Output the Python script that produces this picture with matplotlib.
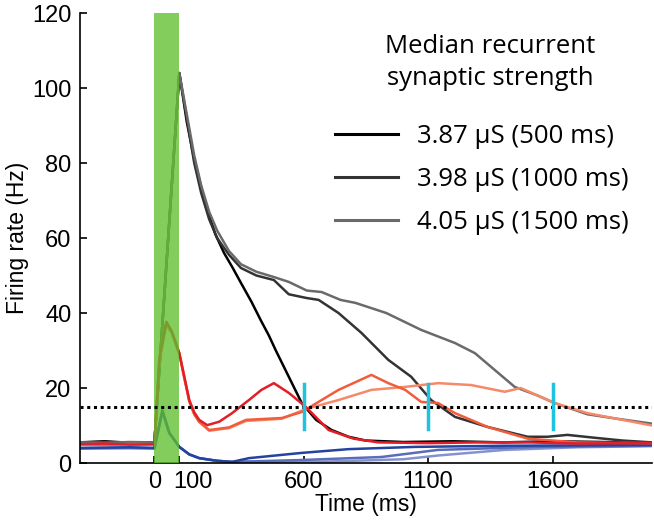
import matplotlib
matplotlib.use('Agg')
import matplotlib.pyplot as plt
import matplotlib.transforms as mtransforms
from matplotlib.lines import Line2D

# время (мс) и частота (Гц)
t_black = [-300, -200, -100, 0, 100, 130, 160, 190, 212, 245, 280, 315, 348, 390, 428, 460, 488, 540, 592, 650, 712, 780, 848, 1000, 1200, 1400, 1600, 1800, 2000]
r_black = [5.5, 5.8, 5.4, 5.5, 104, 91, 81, 73, 67.5, 61, 56, 52, 48, 43, 38, 34, 30, 23, 16, 11.5, 8.8, 7, 6, 5.6, 5.8, 5.5, 5.8, 5.6, 5.4]

t_dgray = [-300, -200, -100, 0, 100, 130, 160, 188, 220, 252, 300, 348, 410, 480, 540, 612, 660, 740, 832, 940, 1032, 1112, 1208, 1340, 1500, 1580, 1660, 1760, 1880, 2000]
r_dgray = [5.5, 5.6, 5.3, 5.5, 104, 92, 80, 72, 65, 60, 55.5, 52, 50, 48.8, 45, 44, 43.5, 40, 34.7, 27.5, 23, 16.8, 12.3, 9.6, 7, 7, 7.5, 6.8, 6, 5.5]

t_mgray = [-300, -200, -100, 0, 100, 130, 160, 188, 220, 252, 300, 348, 410, 480, 540, 612, 672, 748, 808, 932, 1072, 1208, 1288, 1368, 1448, 1540, 1608, 1740, 1860, 2000]
r_mgray = [5.5, 5.4, 5.6, 5.5, 104, 93, 82, 74, 67, 62, 56.5, 53, 51, 49.6, 48.3, 46, 45.6, 43.5, 42.7, 40, 35.5, 32, 29.3, 24.8, 20.3, 18, 16, 13, 11.8, 10.5]

t_red = [-300, -200, -100, 0, 20, 48, 70, 100, 120, 140, 160, 180, 212, 260, 312, 380, 430, 480, 540, 608, 700, 800, 900, 1100, 1300, 1500, 1700, 2000]
r_red = [5, 5.2, 4.9, 5, 28, 37.6, 35, 29.3, 23, 16.8, 13.5, 11.5, 10.1, 11, 13.3, 16.8, 19.5, 21.3, 18.7, 15, 8.8, 6.5, 5.5, 5.3, 5.5, 5.5, 5.2, 5.3]

t_orange = [-300, -200, -100, 0, 20, 48, 70, 100, 120, 140, 160, 180, 220, 300, 368, 512, 592, 740, 872, 940, 1008, 1072, 1140, 1208, 1340, 1500, 1700, 2000]
r_orange = [5, 4.8, 5.1, 5, 28, 37.6, 35, 29.3, 23, 16.5, 13, 11, 8.8, 9.5, 11.5, 12, 13.6, 19.5, 23.5, 21.3, 19.5, 16.3, 16, 13.3, 9.6, 6.5, 5.5, 5.3]

t_salmon = [-300, -200, -100, 0, 20, 48, 70, 100, 120, 140, 160, 180, 220, 300, 368, 512, 608, 740, 872, 1008, 1140, 1272, 1408, 1472, 1608, 1740, 2000]
r_salmon = [5, 4.9, 5, 5, 27, 37, 34.5, 29, 22.5, 16.5, 13, 11, 8.6, 9.3, 11.2, 11.8, 14.4, 16.8, 19.5, 20.3, 21.3, 20.8, 19, 20, 16, 13.3, 10]

t_blue1 = [-300, -100, 0, 32, 60, 100, 140, 180, 250, 312, 380, 592, 780, 1048, 1400, 2000]
r_blue1 = [4, 4.2, 4, 14, 8, 4.3, 2.3, 1.3, 0.6, 0.3, 1.3, 2.7, 3.7, 4.3, 4.6, 4.8]
t_blue2 = [-300, -100, 0, 32, 60, 100, 140, 180, 250, 312, 592, 912, 1140, 1540, 2000]
r_blue2 = [4, 4.1, 4, 14, 8, 4.3, 2.3, 1.3, 0.6, 0.3, 0.8, 1.6, 3.5, 4.3, 4.6]
t_blue3 = [-300, -100, 0, 32, 60, 100, 140, 180, 250, 312, 700, 1000, 1140, 1408, 1700, 2000]
r_blue3 = [3.8, 3.9, 3.8, 13.5, 8, 4.3, 2.3, 1.3, 0.6, 0.3, 0.4, 1, 2, 3.5, 4.2, 4.5]

threshold = 15
cross_times = [600, 1100, 1600]
legend_title = 'Median recurrent\nsynaptic strength'
legend_labels = ['3.87 \u03bcS (500 ms)', '3.98 \u03bcS (1000 ms)', '4.05 \u03bcS (1500 ms)']
gray_colors = ['#000000', '#333333', '#6a6a6a']

plt.rcParams['font.family'] = ['Liberation Sans', 'DejaVu Sans']

fig = plt.figure(figsize=(6.54, 5.22), dpi=100)
ax = fig.add_axes([0.122, 0.113, 0.875, 0.862])

lw = 1.8
ax.plot(t_blue3, r_blue3, color='#8592d0', lw=lw)
ax.plot(t_blue2, r_blue2, color='#5a6cbc', lw=lw)
ax.plot(t_blue1, r_blue1, color='#2443a0', lw=lw)
ax.plot(t_black, r_black, color=gray_colors[0], lw=lw)
ax.plot(t_dgray, r_dgray, color=gray_colors[1], lw=lw)
ax.plot(t_mgray, r_mgray, color=gray_colors[2], lw=lw)
ax.plot(t_salmon, r_salmon, color='#f6896a', lw=lw)
ax.plot(t_orange, r_orange, color='#f25c3c', lw=lw)
ax.plot(t_red, r_red, color='#e41e26', lw=lw)

# зелёный стимул поверх линий, полупрозрачный
ax.axvspan(0, 100, color='#60bf2e', alpha=0.78, lw=0, zorder=3)

ax.axhline(threshold, color='black', ls=(0, (1, 1.2)), lw=2.2, zorder=4)
for tc in cross_times:
    ax.plot([tc, tc], [9, 21], color='#1fc3e0', lw=2.5, zorder=5)

ax.set_xlim(-300, 2000)
ax.set_ylim(0, 120)
ax.set_xticks([0, 100, 600, 1100, 1600])
ax.set_yticks(range(0, 121, 20))
ax.tick_params(direction='in', labelsize=17, length=5, width=1.2, pad=6)
# подпись 100 чуть сдвинута вправо, чтобы не налезала на 0
lab100 = ax.get_xticklabels()[1]
lab100.set_transform(lab100.get_transform() + mtransforms.ScaledTranslation(0.14, 0, fig.dpi_scale_trans))
for s in ['top', 'right']:
    ax.spines[s].set_visible(False)
for s in ['left', 'bottom']:
    ax.spines[s].set_linewidth(1.2)
ax.set_xlabel('Time (ms)', fontsize=16.5, labelpad=0)
ax.set_ylabel('Firing rate (Hz)', fontsize=16.5, labelpad=2)

# заголовок легенды отдельным текстом
ax.text(0.717, 0.89, legend_title, transform=ax.transAxes, ha='center', va='center',
        multialignment='center', family='Open Sans', fontsize=18.5, linespacing=1.4)
handles = [Line2D([], [], color=c, lw=2.2) for c in gray_colors]
leg = ax.legend(handles, legend_labels, loc='upper left', bbox_to_anchor=(0.424, 0.782),
                frameon=False, prop={'family': 'Open Sans', 'size': 18.5}, handlelength=2.45,
                handletextpad=0.75, labelspacing=0.7, borderpad=0)

plt.savefig('out.png', dpi=100)
